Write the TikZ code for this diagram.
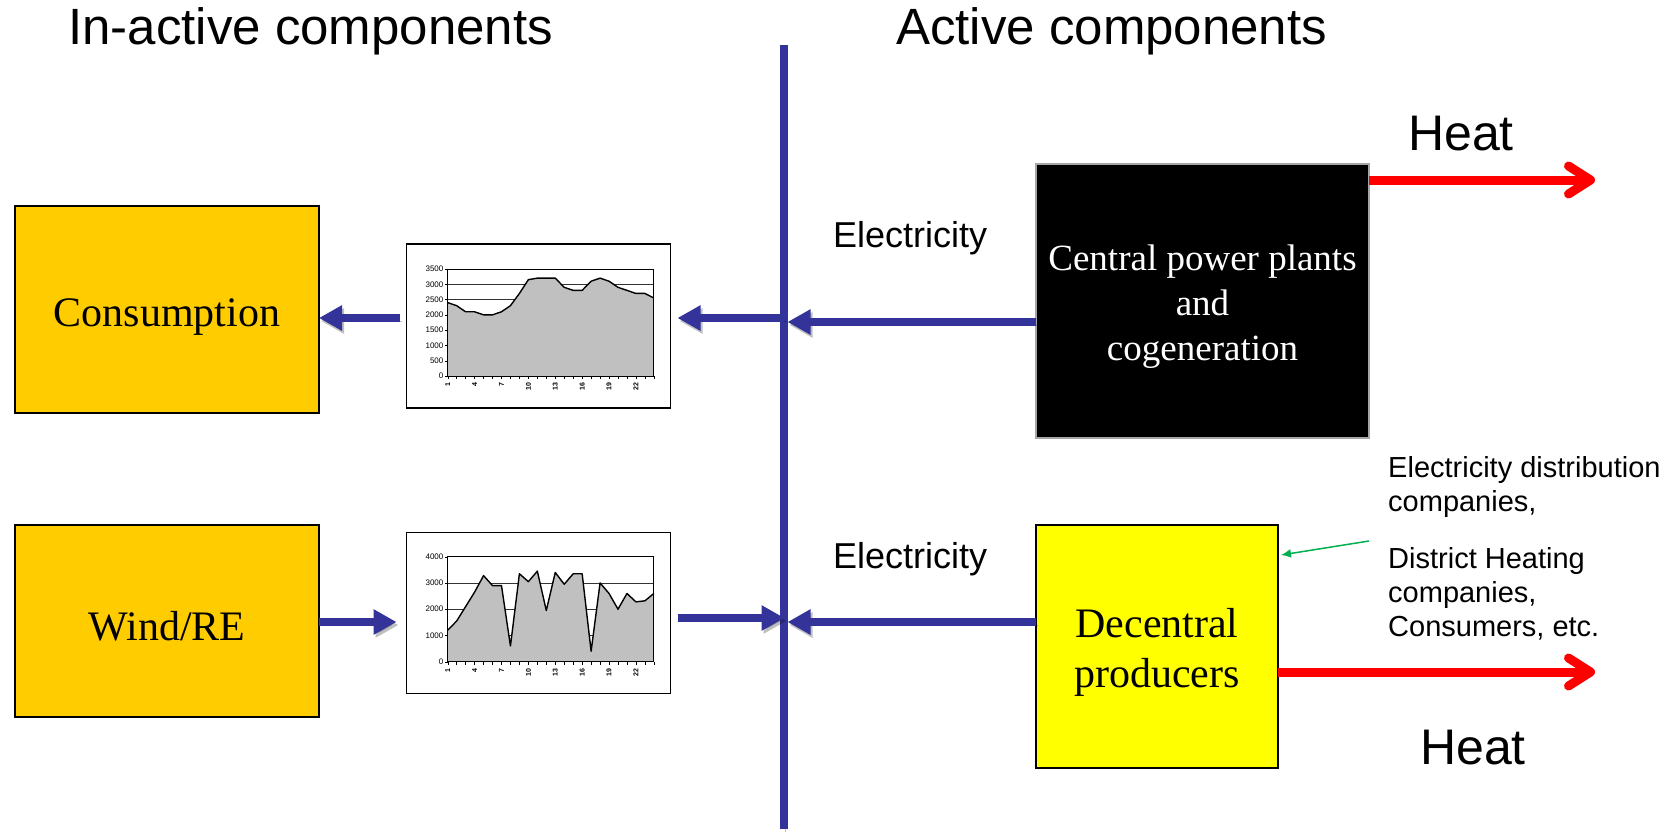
\documentclass[tikz,border=0pt]{standalone}
\usepackage{fontspec}
\setmainfont{Liberation Serif}
\setsansfont{Liberation Sans}
\usetikzlibrary{arrows.meta,calc}

\definecolor{busblue}{HTML}{333399}
\definecolor{consorange}{HTML}{FFCC00}
\definecolor{heatred}{HTML}{FF0000}
\definecolor{notegreen}{HTML}{00B050}
\definecolor{areagray}{HTML}{C0C0C0}
\definecolor{decyellow}{HTML}{FFFF00}

% hourly profiles (24 values each)
\newcommand\consload{2400,2300,2100,2100,2000,2000,2100,2300,2700,3150,3200,3200,3200,2900,2800,2800,3100,3200,3100,2900,2800,2700,2700,2550}
\newcommand\windload{1200,1550,2100,2650,3280,2900,2900,600,3350,3050,3450,1950,3400,2950,3350,3350,400,3000,2600,2000,2600,2280,2320,2600}

\begin{document}
\begin{tikzpicture}[x=1pt,y=-1pt,
	bus/.style={line width=8pt,busblue,
		preaction={draw=black,opacity=0.25,transform canvas={shift={(2pt,-3pt)}}}},
	flow/.style={bus,-{Triangle[length=23pt,width=24pt]}},
	heat/.style={line width=9pt,heatred,-{Straight Barb[length=22pt,width=28pt,round]}},
	pointer/.style={line width=1.5pt,notegreen,-{Latex[length=10pt,width=9pt]}},
	inbox/.style={draw,line width=2.5pt,fill=consorange,outer sep=0pt,inner sep=0pt},
	actbox/.style={draw,line width=2pt,outer sep=0pt,inner sep=0pt},
	boxtext/.style={inner sep=0pt,align=center,font=\fontsize{42}{50}\selectfont},
	chartframe/.style={draw,line width=1.5pt,fill=white,outer sep=0pt,inner sep=0pt},
	grid/.style={line width=0.8pt,black!80},
	curve/.style={line width=1.4pt,line join=round},
	ylab/.style={anchor=east,inner sep=1pt,font=\sffamily\fontsize{8}{8}\selectfont},
	xlab/.style={rotate=90,anchor=east,inner sep=1pt,font=\sffamily\bfseries\fontsize{7}{7}\selectfont},
	heading/.style={anchor=base west,inner sep=0pt,font=\sffamily\fontsize{51}{60}\selectfont},
	flowlab/.style={anchor=base west,inner sep=0pt,font=\sffamily\fontsize{36}{42}\selectfont},
	note/.style={anchor=north west,inner sep=0pt,align=left,font=\sffamily\fontsize{29}{34}\selectfont}]

	\useasboundingbox (0,0) rectangle (1670,832);

	% Headings
	\node[heading] (hin) at (68,45) {In-active components};
	\node[heading] (hact) at (896,45) {Active components};

	% Bus
	\coordinate (bustop) at (783.5,45);
	\coordinate (busbot) at (783.5,829);
	\coordinate (busA) at (783.5,318);
	\coordinate (busB) at (783.5,322);
	\coordinate (busC) at (783.5,618);
	\coordinate (busD) at (783.5,622);
	\draw[bus] (bustop) -- (busbot);

	% In-active side
	\node[inbox,minimum width=304pt,minimum height=207pt] (cons) at (167,309.5) {};
	\node[boxtext,anchor=base] (conslab) at ([yshift=-16.5pt]cons.center) {Consumption};
	\node[inbox,minimum width=304pt,minimum height=192pt] (wind) at (167,621) {};
	\node[boxtext,anchor=base] (windlab) at ([yshift=-19pt]wind.center) {Wind/RE};

	% Consumption profile
	\node[chartframe,minimum width=264pt,minimum height=164pt] (cht1) at (538.5,326) {};
	\begin{scope}[shift={(447.7,376)},x=8.963pt,y=0.030571pt]
		\foreach \v in {500,1000,...,3000} \draw[grid] (0,\v) -- (23,\v);
		\fill[areagray] (0,0) \foreach \v [count=\i from 0] in \consload {-- (\i,\v)} -- (23,0) -- cycle;
		\draw[curve] (0,2400) \foreach \v [count=\i from 0] in \consload {-- (\i,\v)};
		\draw[line width=0.8pt] (0,0) rectangle (23,3500);
		\foreach \v in {0,500,...,3500} {
			\draw (0,\v) -- (-0.3,\v);
			\node[ylab] (c1y\v) at (-0.35,\v) {\v};
		}
		\foreach \i in {0,...,23} \draw (\i,0) -- (\i,-100);
		\foreach \k in {1,4,...,22} \node[xlab] (c1x\k) at (\k-1,-180) {\k};
	\end{scope}

	% Wind profile
	\node[chartframe,minimum width=264pt,minimum height=161pt] (cht2) at (538.5,613) {};
	\begin{scope}[shift={(447.7,661.7)},x=8.963pt,y=0.02625pt]
		\foreach \v in {1000,2000,3000} \draw[grid] (0,\v) -- (23,\v);
		\fill[areagray] (0,0) \foreach \v [count=\i from 0] in \windload {-- (\i,\v)} -- (23,0) -- cycle;
		\draw[curve] (0,1200) \foreach \v [count=\i from 0] in \windload {-- (\i,\v)};
		\draw[line width=0.8pt] (0,0) rectangle (23,4000);
		\foreach \v in {0,1000,...,4000} {
			\draw (0,\v) -- (-0.3,\v);
			\node[ylab] (c2y\v) at (-0.35,\v) {\v};
		}
		\foreach \i in {0,...,23} \draw (\i,0) -- (\i,-115);
		\foreach \k in {1,4,...,22} \node[xlab] (c2x\k) at (\k-1,-210) {\k};
	\end{scope}

	% Active side
	\node[actbox,draw=gray!70,line width=1.5pt,fill=black,minimum width=333pt,minimum height=274pt] (cpp) at (1202.5,301) {};
	\node[boxtext,text=white,font=\fontsize{37}{45}\selectfont] (cpplab) at ([yshift=-5.4pt]cpp.center) {Central power plants\\and\\cogeneration};
	\node[actbox,fill=decyellow,minimum width=242pt,minimum height=243pt] (dec) at (1157,646.5) {};
	\node[boxtext] (declab) at ([yshift=-5.7pt]dec.center) {Decentral\\producers};

	\node[flowlab] (elA) at (833,247) {Electricity};
	\node[flowlab] (elB) at (833,568) {Electricity};

	% Electricity flows
	\draw[flow] ([xshift=-7pt]busA -| cht1.west) -- (busA -| cons.east);
	\draw[flow] (busA) -- ([xshift=7pt]busA -| cht1.east);
	\draw[flow] (busB -| cpp.west) -- ([xshift=4pt]busB);
	\draw[flow] (busD -| wind.east) -- ([xshift=-10pt]busD -| cht2.west);
	\draw[flow] ([xshift=7pt]busC -| cht2.east) -- ([xshift=1pt]busC);
	\draw[flow] (busD -| dec.west) -- ([xshift=4pt]busD);

	% Heat flows
	\coordinate (heatA) at (1595,180);
	\coordinate (heatB) at (1595,672);
	\draw[heat] (heatA -| cpp.east) -- (heatA);
	\draw[heat] (heatB -| dec.east) -- (heatB);
	\node[heading,font=\sffamily\fontsize{50}{60}\selectfont] (htA) at (1408,150) {Heat};
	\node[heading,font=\sffamily\fontsize{50}{60}\selectfont] (htB) at (1420,764) {Heat};

	% Owners of decentral units
	\node[note] (own1) at (1388,456) {Electricity distribution\\companies,};
	\node[note] (own2) at (1388,547) {District Heating\\companies,\\Consumers, etc.};
	\coordinate (ownarrow) at (1369,541);
	\draw[pointer] (ownarrow) -- ([xshift=3pt,yshift=-30pt]dec.north east);

\end{tikzpicture}
\end{document}
